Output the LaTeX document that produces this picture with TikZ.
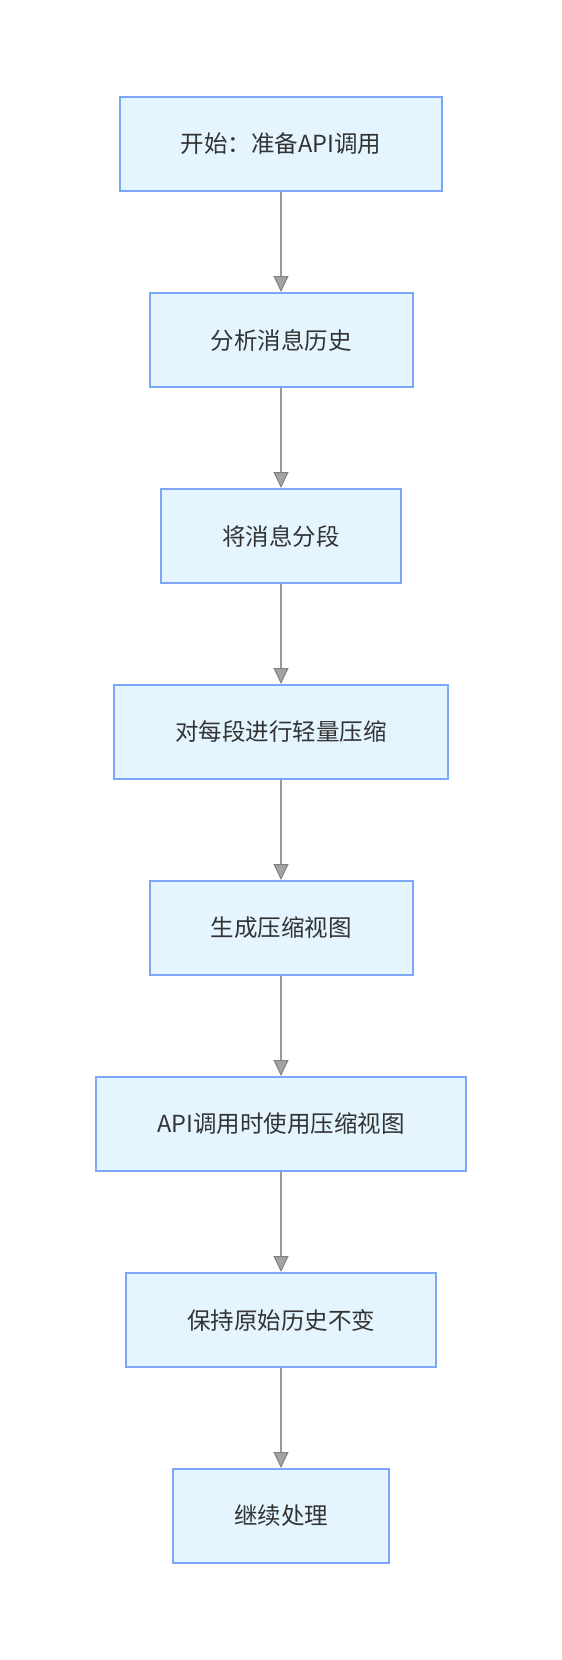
\documentclass[tikz,border=0pt]{standalone}
\usepackage{fontspec}
\setmainfont{Noto Sans CJK SC}
\usetikzlibrary{positioning,arrows.meta}

\definecolor{boxfill}{HTML}{E5F5FF}
\definecolor{boxline}{HTML}{7EA6F8}
\definecolor{textgray}{HTML}{333333}
\definecolor{arrowline}{HTML}{999999}
\definecolor{arrowhead}{HTML}{A3A3A3}

\tikzset{
    stepbox/.style={draw=boxline,fill=boxfill,line width=2pt,text=textgray,
        minimum height=94pt,inner xsep=61pt,inner ysep=0pt,
        font=\fontsize{23.5}{28}\selectfont},
    flow/.style={draw=arrowline,line width=2pt,
        -{Triangle[length=16pt,width=15pt,fill=arrowhead,color=arrowline!85!black,line width=1pt]}}
}

\begin{document}
\begin{tikzpicture}[x=1pt,y=1pt,node distance=100pt]
        \useasboundingbox (0,0) rectangle (562,-1660);
        \node[stepbox] (start) at (281,-144) {开始：准备API调用};
        \node[stepbox,below=of start] (analyse) {分析消息历史};
        \node[stepbox,below=of analyse] (segment) {将消息分段};
        \node[stepbox,below=of segment] (compress) {对每段进行轻量压缩};
        \node[stepbox,below=of compress] (view) {生成压缩视图};
        \node[stepbox,below=of view] (apicall) {API调用时使用压缩视图};
        \node[stepbox,below=of apicall] (keep) {保持原始历史不变};
        \node[stepbox,below=of keep] (goon) {继续处理};
        \draw[flow] (start) -- (analyse);
        \draw[flow] (analyse) -- (segment);
        \draw[flow] (segment) -- (compress);
        \draw[flow] (compress) -- (view);
        \draw[flow] (view) -- (apicall);
        \draw[flow] (apicall) -- (keep);
        \draw[flow] (keep) -- (goon);
    \end{tikzpicture}
\end{document}
